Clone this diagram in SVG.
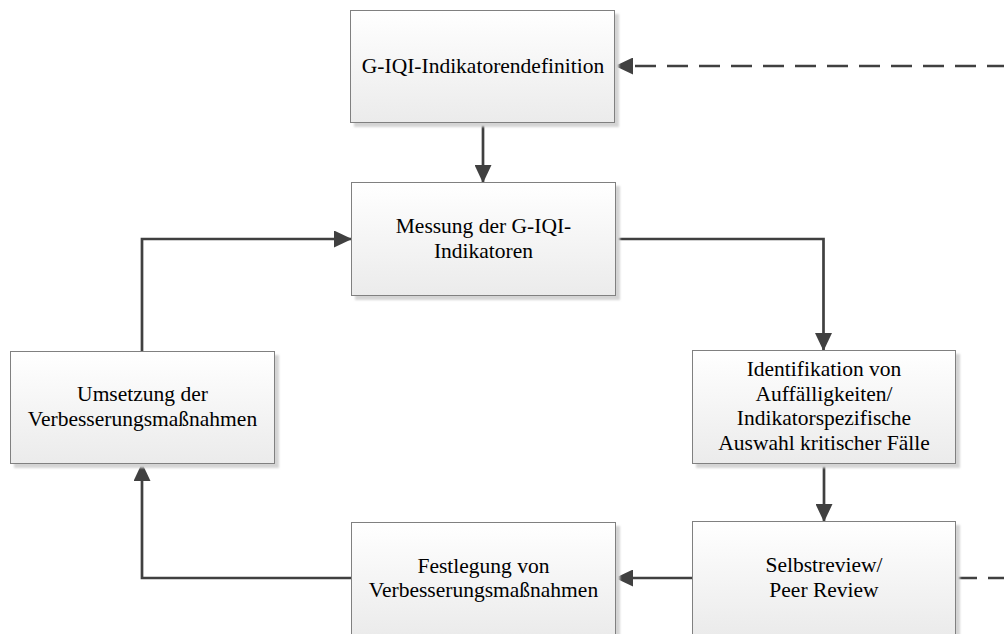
<svg xmlns="http://www.w3.org/2000/svg" width="1004" height="634" viewBox="0 0 1004 634">
  <defs>
    <linearGradient id="boxFill" x1="0" y1="0" x2="0" y2="1">
      <stop offset="0" stop-color="#ffffff"/>
      <stop offset="1" stop-color="#ebebeb"/>
    </linearGradient>
    <filter id="shadowBlur" x="-5%" y="-5%" width="110%" height="110%">
      <feGaussianBlur stdDeviation="1"/>
    </filter>
    <marker id="arrow" viewBox="0 0 18 17" markerWidth="18" markerHeight="17" refX="17" refY="8.5" orient="auto" markerUnits="userSpaceOnUse">
      <path d="M0,0 L18,8.5 L0,17 Z" fill="#404040"/>
    </marker>
    <style>
      .shadow { fill: #d4d4d4; filter: url(#shadowBlur); }
      .box { fill: url(#boxFill); stroke: #808080; stroke-width: 1; }
      .label { font-family: 'Liberation Serif', 'DejaVu Serif', serif; font-size: 21.5px; fill: #000000; text-anchor: middle; }
      .conn { fill: none; stroke: #404040; stroke-width: 2.7; }
      .dashed { stroke-dasharray: 21 11; }
    </style>
  </defs>

  <!-- connectors -->
  <g id="connectors">
    <path class="conn" d="M483,123 L483,182" marker-end="url(#arrow)"/>
    <path class="conn" d="M616,239 L823.5,239 L823.5,350" marker-end="url(#arrow)"/>
    <path class="conn" d="M824,464 L824,521" marker-end="url(#arrow)"/>
    <path class="conn" d="M692,578 L616,578" marker-end="url(#arrow)"/>
    <path class="conn" d="M351,578 L142,578 L142,464" marker-end="url(#arrow)"/>
    <path class="conn" d="M142,351 L142,239 L351,239" marker-end="url(#arrow)"/>
    <path class="conn dashed" d="M956,578 L1030,578 L1030,66 L616,66" marker-end="url(#arrow)"/>
  </g>

  <!-- process steps -->
  <g font-family="Liberation Serif, DejaVu Serif, serif">
  <g id="node-definition">
    <rect class="shadow" x="354" y="14" width="265" height="113"/>
    <rect class="box" x="350.5" y="10.5" width="264" height="112"/>
    <text class="label" x="483" y="73">G-IQI-Indikatorendefinition</text>
  </g>

  <g id="node-messung">
    <rect class="shadow" x="355" y="186" width="265" height="114"/>
    <rect class="box" x="351.5" y="182.5" width="264" height="113"/>
    <text class="label" x="483.5" y="233">Messung der G-IQI-</text>
    <text class="label" x="483.5" y="258">Indikatoren</text>
  </g>

  <g id="node-identifikation">
    <rect class="shadow" x="696" y="354" width="264" height="114"/>
    <rect class="box" x="692.5" y="350.5" width="263" height="113"/>
    <text class="label" x="824" y="376">Identifikation von</text>
    <text class="label" x="824" y="400.5">Auffälligkeiten/</text>
    <text class="label" x="824" y="425">Indikatorspezifische</text>
    <text class="label" x="824" y="449.5">Auswahl kritischer Fälle</text>
  </g>

  <g id="node-review">
    <rect class="shadow" x="696" y="525" width="264" height="114"/>
    <rect class="box" x="692.5" y="521.5" width="263" height="113"/>
    <text class="label" x="824" y="572">Selbstreview/</text>
    <text class="label" x="824" y="597">Peer Review</text>
  </g>

  <g id="node-festlegung">
    <rect class="shadow" x="355" y="526" width="265" height="114"/>
    <rect class="box" x="351.5" y="522.5" width="264" height="113"/>
    <text class="label" x="483.5" y="573">Festlegung von</text>
    <text class="label" x="483.5" y="597">Verbesserungsmaßnahmen</text>
  </g>

  <g id="node-umsetzung">
    <rect class="shadow" x="14" y="355" width="265" height="113"/>
    <rect class="box" x="10.5" y="351.5" width="264" height="112"/>
    <text class="label" x="142.5" y="401">Umsetzung der</text>
    <text class="label" x="142.5" y="426">Verbesserungsmaßnahmen</text>
  </g>
  </g>
</svg>
